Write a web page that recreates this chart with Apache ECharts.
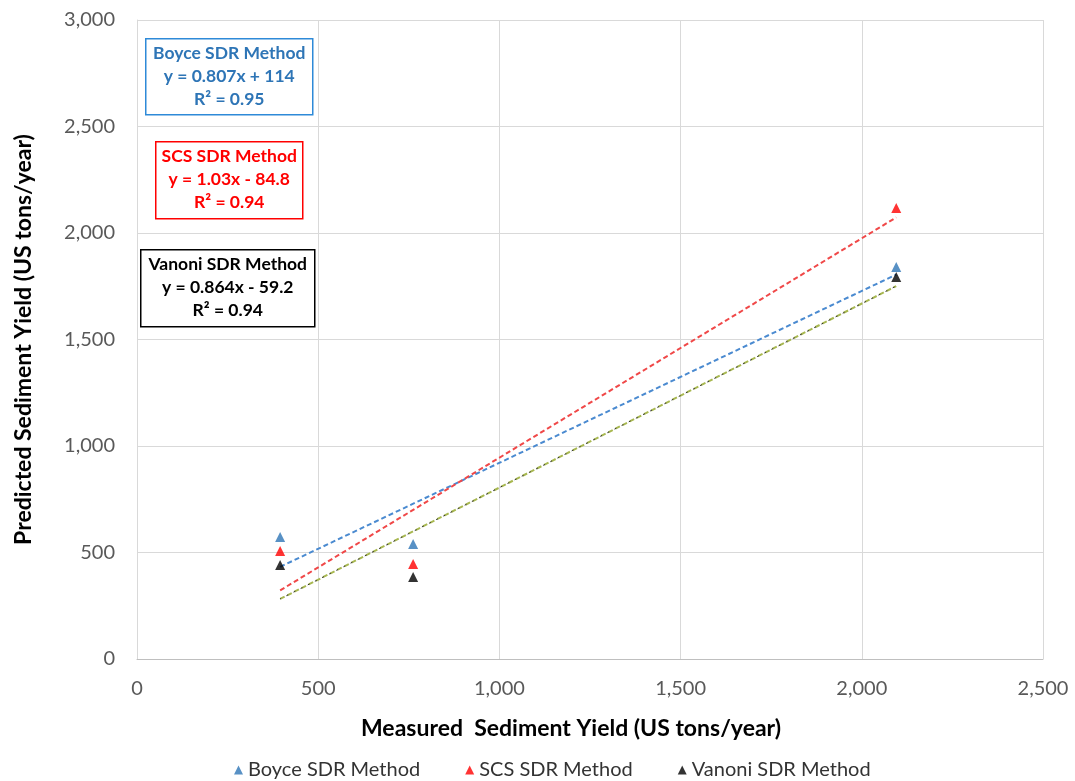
<!DOCTYPE html>
<html>
<head>
<meta charset="utf-8">
<script src="https://cdn.jsdelivr.net/npm/echarts@6/dist/echarts.min.js"></script>
<style>
  html, body { margin: 0; padding: 0; background: #fff; }
  #chart { width: 1075px; height: 781px; }
</style>
</head>
<body>
<div id="chart"></div>
<script>
// Measured vs. predicted sediment yield for three SDR methods
const measured = [395, 762, 2095];
const boyce = [573, 540, 1840];
const scs = [507, 446, 2117];
const vanoni = [441, 385, 1793];

const methodNames = ['Boyce SDR Method', 'SCS SDR Method', 'Vanoni SDR Method'];
const methodColors = ['#2e75b6', '#ff0000', '#000000'];
// linear trendline coefficients (y = slope * x + intercept)
const slopes = [0.807, 1.03, 0.864];
const intercepts = [114, -84.8, -59.2];
const r2 = ['0.95', '0.94', '0.94'];
const eqText = ['y = 0.807x + 114', 'y = 1.03x - 84.8', 'y = 0.864x - 59.2'];

const xTicks = [0, 500, 1000, 1500, 2000, 2500];
const yTicks = [0, 500, 1000, 1500, 2000, 2500, 3000];

const fontFam = 'Lato, "Open Sans", sans-serif';
const fmt = v => v.toLocaleString('en-US');

const xMin = Math.min(...measured), xMax = Math.max(...measured);
function trend(i) {
  return [[xMin, slopes[i] * xMin + intercepts[i]], [xMax, slopes[i] * xMax + intercepts[i]]];
}
const values = [boyce, scs, vanoni];

const chart = echarts.init(document.getElementById('chart'), null, { renderer: 'canvas' });

const series = [];
// trendlines
const trendStyles = [
  { color: '#4a8ad0', type: [5, 3] },
  { color: '#f04848', type: [5, 3] },
  { color: '#a8b850', type: [5, 3] }
];
for (let i = 0; i < 3; i++) {
  series.push({
    type: 'line',
    name: methodNames[i] + ' trend',
    data: trend(i),
    symbol: 'none',
    silent: true,
    z: 2,
    lineStyle: { color: trendStyles[i].color, width: 2, type: trendStyles[i].type }
  });
}
// dark dashes laid over the Vanoni trendline
series.push({
  type: 'line',
  name: 'Vanoni overlay',
  data: trend(2),
  symbol: 'none',
  silent: true,
  z: 3,
  lineStyle: { color: '#333', width: 1, type: [2, 6], dashOffset: 1 }
});
// data points
for (let i = 0; i < 3; i++) {
  series.push({
    type: 'scatter',
    name: methodNames[i],
    data: measured.map((x, k) => [x, values[i][k]]),
    symbol: 'triangle',
    symbolSize: 10,
    z: 5,
    itemStyle: { color: methodColors[i] }
  });
}

// equation boxes
const boxes = [
  { left: 145, top: 38, w: 167, h: 76, stroke: '#2e8ad8', color: '#2e75b6' },
  { left: 155, top: 141, w: 147, h: 77, stroke: '#ff0000', color: '#ff0000' },
  { left: 140, top: 249, w: 174, h: 77, stroke: '#000000', color: '#000000' }
];
const boxFont = 'bold 17.5px ' + fontFam;
const graphics = boxes.map((b, i) => ({
  type: 'group',
  left: b.left,
  top: b.top,
  children: [
    { type: 'rect', shape: { x: 0, y: 0, width: b.w, height: b.h },
      style: { fill: '#fff', stroke: b.stroke, lineWidth: 1.5 } },
    { type: 'text', x: b.w / 2, y: 15,
      style: { text: methodNames[i], fill: b.color, font: boxFont, align: 'center', verticalAlign: 'middle' } },
    { type: 'text', x: b.w / 2, y: 38,
      style: { text: eqText[i], fill: b.color, font: boxFont, align: 'center', verticalAlign: 'middle' } },
    { type: 'text', x: b.w / 2, y: 61,
      style: { text: 'R² = ' + r2[i], fill: b.color, font: boxFont, align: 'center', verticalAlign: 'middle' } }
  ]
}));

chart.setOption({
  animation: false,
  backgroundColor: '#fff',
  textStyle: { fontFamily: fontFam },
  grid: { left: 137, right: 32, top: 20, bottom: 122, containLabel: false },
  xAxis: {
    type: 'value',
    min: xTicks[0], max: xTicks[xTicks.length - 1], interval: 500,
    name: 'Measured  Sediment Yield (US tons/year)',
    nameLocation: 'middle', nameGap: 58,
    nameTextStyle: { fontSize: 23, fontWeight: 'bold', color: '#000', fontFamily: fontFam, padding: [0, 38, 0, 0] },
    axisLine: { show: true, lineStyle: { color: '#bfbfbf' } },
    axisTick: { show: false },
    axisLabel: { fontSize: 20, color: '#595959', margin: 20, formatter: fmt },
    splitLine: { show: true, lineStyle: { color: '#d9d9d9' } }
  },
  yAxis: {
    type: 'value',
    min: yTicks[0], max: yTicks[yTicks.length - 1], interval: 500,
    name: 'Predicted Sediment Yield (US tons/year)',
    nameLocation: 'middle', nameGap: 102,
    nameTextStyle: { fontSize: 23, fontWeight: 'bold', color: '#000', fontFamily: fontFam },
    axisLine: { show: true, lineStyle: { color: '#d9d9d9' } },
    axisTick: { show: false },
    axisLabel: { fontSize: 20, color: '#595959', margin: 22, formatter: fmt },
    splitLine: { show: true, lineStyle: { color: '#d9d9d9' } }
  },
  legend: {
    data: methodNames.map(n => ({ name: n, icon: 'triangle' })),
    left: 229,
    top: 755,
    itemWidth: 9,
    itemHeight: 9,
    itemGap: 45,
    textStyle: { fontSize: 20, color: '#333', fontFamily: fontFam }
  },
  graphic: graphics,
  series: series
});
</script>
</body>
</html>
